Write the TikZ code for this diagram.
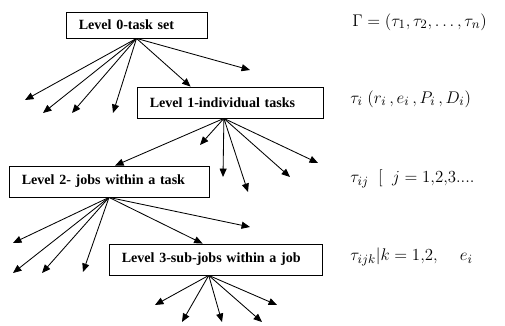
\documentclass[tikz,border=0pt]{standalone}
\usepackage{fontspec}
\setmainfont{Liberation Serif}
\usetikzlibrary{arrows.meta}

\begin{document}
\begin{tikzpicture}[x=0.025cm, y=-0.025cm, semithick, >={Triangle[length=6pt,width=5pt]},
  level/.style={draw, inner xsep=0.32cm, inner ysep=0pt, minimum height=0.775cm, align=left,
    font=\fontsize{10}{12}\selectfont\bfseries},
  formula/.style={anchor=west, inner sep=0pt, font=\fontsize{12.5}{15}\selectfont}]
  \useasboundingbox (0,0) rectangle (505,326);

  % Level boxes
  \node[level, text width=2.885cm, minimum height=0.65cm] (L0) at (136.5,25) {Level 0-task set};
  \node[level, text width=4.01cm] (L1) at (230,102.5) {Level 1-individual tasks};
  \node[level, text width=4.36cm] (L2) at (109,181.5) {Level 2- jobs within a task};
  \node[level, text width=4.685cm] (L3) at (215.5,259.5) {Level 3-sub-jobs within a job};

  % Free ends of the arrows
  \foreach \n/\x/\y in {a1/25/100, a2/43/113, a3/72/113, a4/113/113, a5/250/70,
                        b1/200/145, b2/223/177, b3/248/192, b4/290/177, b5/318/163,
                        c1/13/243, c2/13/273, c3/42/273, c4/83/272, c5/250/227,
                        d1/155/305, d2/182/322, d3/222/322, d4/262/322, d5/277/305}
    \coordinate (\n) at (\x,\y);

  % Level 0 -> tasks
  \foreach \t in {a1,a2,a3,a4,a5} \draw[->] (L0.south) -- (\t);
  \draw[->] (L0.south) -- (L1.158);

  % Level 1 -> jobs
  \foreach \t in {b1,b2,b3,b4,b5} \draw[->] (L1.249) -- (\t);
  \draw[->] (L1.249) -- (L2.69);

  % Level 2 -> sub-jobs
  \foreach \t in {c1,c2,c3,c4,c5} \draw[->] (L2.south) -- (\t);
  \draw[->] (L2.south) -- (L3.129);

  % Level 3 -> leaves
  \foreach \t in {d1,d2,d3,d4,d5} \draw[->] (L3.247) -- (\t);

  % Notation on the right
  \node[formula] (f0) at (352,22) {$\Gamma = (\tau_1, \tau_2, \ldots, \tau_n)$};
  \node[formula] (f1) at (350,99) {$\tau_i\;(r_i\,, e_i\,, P_i\,, D_i)$};
  \node[formula] (f2) at (350,179) {$\tau_{ij}\;\;[\;\; j = 1{,}2{,}3....$};
  \node[formula] (f3) at (350,257) {$\tau_{ijk}\big|k = 1{,}2{,}\quad\; e_i$};
\end{tikzpicture}
\end{document}
